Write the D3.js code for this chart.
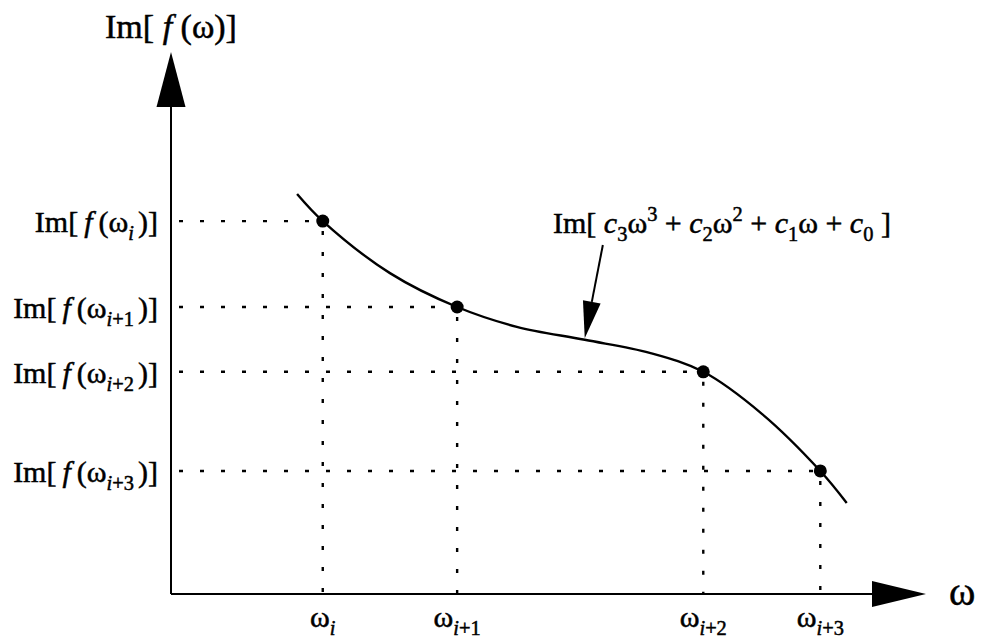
<!DOCTYPE html>
<html>
<head>
<meta charset="utf-8">
<script src="https://cdn.jsdelivr.net/npm/d3@7"></script>
<style>
  html, body { margin: 0; padding: 0; background: #fff; }
  text { font-family: "Liberation Serif", "DejaVu Serif", serif; fill: #000; stroke: #000; stroke-width: 0.5px; }
</style>
</head>
<body>
<div id="chart"></div>
<script>
// knots of the cubic segment (omega, Im value), in arbitrary units 0..100
const knotW = [20.1, 37.9, 70.5, 86.0];
const knotIm = [68.8, 52.95, 41.0, 22.7];
const knotSub = ["i", "i+1", "i+2", "i+3"];

// curve
const curveW = [16.7, 20.1, 29.0, 37.9, 45.8, 54.8, 63.4, 70.5, 78.3, 86.0, 89.5];
const curveIm = [73.8, 68.8, 59.2, 52.95, 49.3, 46.9, 44.5, 41.0, 33.2, 22.7, 16.8];

// annotation: text anchor, arrow tail, arrow tip
const noteAt = [50.6, 66.6];
const noteTail = [57.2, 64.4];
const noteTip = [54.8, 47.2];

const W = 986, H = 641;
const margin = { top: 52, right: 60, bottom: 47, left: 171 };
const fs = 30;

const svg = d3.select("#chart").append("svg")
    .attr("width", W)
    .attr("height", H);

const x = d3.scaleLinear().domain([0, 100]).range([margin.left, W - margin.right]);
const y = d3.scaleLinear().domain([0, 100]).range([H - margin.bottom, margin.top]);

// text made of pieces: n = normal, i = italic, sub/subi = subscript, sup = superscript
function rich(sel, parts, size) {
    let shift = 0;
    parts.forEach(([t, kind]) => {
        let want = 0;
        if (kind === "sub" || kind === "subi") want = size * 0.27;
        if (kind === "sup") want = -size * 0.4;
        const ts = sel.append("tspan").attr("dy", want - shift).text(t);
        shift = want;
        if (kind === "i" || kind === "subi") ts.attr("font-style", "italic");
        if (kind === "sub" || kind === "subi" || kind === "sup") ts.attr("font-size", size * 0.68);
    });
    if (shift !== 0) sel.append("tspan").attr("dy", -shift).text("");
}

function imLabel(sub) {
    const p = [["Im[\u2009", "n"], ["f", "i"], ["\u2009(\u03c9", "n"]];
    if (sub) {
        p.push([sub[0], "subi"]);
        if (sub.length > 1) p.push([sub.slice(1), "sub"]);
        p.push(["\u2009", "sub"]);
    }
    p.push([")]", "n"]);
    return p;
}

const pts = knotW.map((w, k) => ({ w: w, im: knotIm[k], sub: knotSub[k] }));

// dotted guides
const guides = svg.append("g")
    .attr("stroke", "#000")
    .attr("stroke-width", 2.4)
    .attr("stroke-dasharray", "4,17");

guides.selectAll(".h").data(pts).enter().append("line")
    .attr("x1", x(0) + 8).attr("x2", d => x(d.w))
    .attr("y1", d => y(d.im)).attr("y2", d => y(d.im));

guides.selectAll(".v").data(pts).enter().append("line")
    .attr("x1", d => x(d.w)).attr("x2", d => x(d.w))
    .attr("y1", d => y(d.im) + 10).attr("y2", y(0));

// axes with arrow heads
const axes = svg.append("g");
axes.append("line")
    .attr("x1", x(0)).attr("y1", y(0))
    .attr("x2", x(0)).attr("y2", y(100) + 40)
    .attr("stroke", "#000").attr("stroke-width", 2);
axes.append("line")
    .attr("x1", x(0)).attr("y1", y(0))
    .attr("x2", x(100) - 40).attr("y2", y(0))
    .attr("stroke", "#000").attr("stroke-width", 2.2);

axes.append("path")
    .attr("d", d3.line()([[x(0), y(100)], [x(0) - 14.5, y(100) + 55], [x(0) + 14.5, y(100) + 55]]) + "Z")
    .attr("fill", "#000");
axes.append("path")
    .attr("d", d3.line()([[x(100), y(0)], [x(100) - 54, y(0) - 13], [x(100) - 54, y(0) + 13]]) + "Z")
    .attr("fill", "#000");

// curve
const curve = curveW.map((w, k) => [x(w), y(curveIm[k])]);
svg.append("path")
    .attr("d", d3.line().curve(d3.curveCatmullRom.alpha(0.5))(curve))
    .attr("fill", "none")
    .attr("stroke", "#000")
    .attr("stroke-width", 2.4);

svg.selectAll(".dot").data(pts).enter().append("circle")
    .attr("cx", d => x(d.w))
    .attr("cy", d => y(d.im))
    .attr("r", 6.5)
    .attr("fill", "#000");

// y labels
svg.selectAll(".ylab").data(pts).enter().append("text")
    .attr("x", x(0) - 13)
    .attr("y", d => y(d.im) + 11)
    .attr("text-anchor", "end")
    .attr("font-size", fs)
    .each(function (d) { rich(d3.select(this), imLabel(d.sub), fs); });

// x labels
svg.selectAll(".xlab").data(pts).enter().append("text")
    .attr("x", d => x(d.w))
    .attr("y", y(0) + 33)
    .attr("text-anchor", "middle")
    .attr("font-size", fs)
    .each(function (d) {
        rich(d3.select(this), [["\u03c9", "n"], [d.sub[0], "subi"], [d.sub.slice(1), "sub"]], fs);
    });

// axis titles
svg.append("text")
    .attr("x", x(0))
    .attr("y", 38)
    .attr("text-anchor", "middle")
    .attr("font-size", 34)
    .call(t => rich(t, [["Im[ ", "n"], ["f", "i"], [" (\u03c9)]", "n"]], 34));

svg.append("text")
    .attr("x", x(100) + 23)
    .attr("y", y(0) + 11)
    .attr("font-size", 40)
    .text("\u03c9");

// annotation
const note = svg.append("text")
    .attr("x", x(noteAt[0]))
    .attr("y", y(noteAt[1]))
    .attr("font-size", fs);
rich(note, [
    ["Im[ ", "n"], ["c", "i"], ["3", "sub"], ["\u03c9", "n"], ["3", "sup"],
    [" + ", "n"], ["c", "i"], ["2", "sub"], ["\u03c9", "n"], ["2", "sup"],
    [" + ", "n"], ["c", "i"], ["1", "sub"], ["\u03c9 + ", "n"], ["c", "i"], ["0", "sub"], [" ]", "n"]
], fs);

const tx = x(noteTail[0]), ty = y(noteTail[1]);
const px = x(noteTip[0]), py = y(noteTip[1]);
const ang = Math.atan2(py - ty, px - tx);
const hl = 37, hw = 9;
const bx = px - hl * Math.cos(ang), by = py - hl * Math.sin(ang);
svg.append("line")
    .attr("x1", tx).attr("y1", ty).attr("x2", bx).attr("y2", by)
    .attr("stroke", "#000").attr("stroke-width", 2);
svg.append("path")
    .attr("d", d3.line()([
        [px, py],
        [bx + hw * Math.sin(ang), by - hw * Math.cos(ang)],
        [bx - hw * Math.sin(ang), by + hw * Math.cos(ang)]
    ]) + "Z")
    .attr("fill", "#000");
</script>
</body>
</html>
